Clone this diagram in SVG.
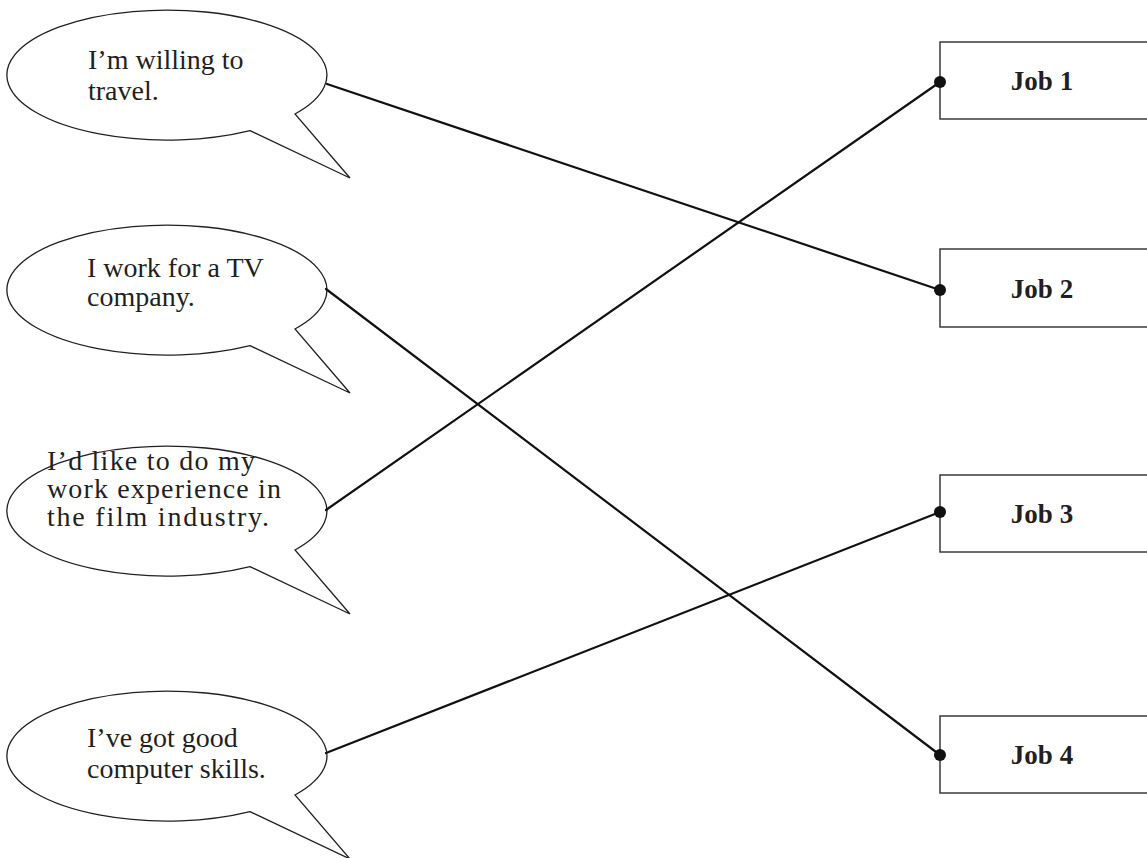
<svg xmlns="http://www.w3.org/2000/svg" width="1147" height="858" viewBox="0 0 1147 858">
  <defs>
    <style>
      .bubble { fill: #ffffff; stroke: #231f20; stroke-width: 1.3; stroke-linejoin: miter; }
      .btext { font-family: "Liberation Serif", "Times New Roman", serif; font-size: 28px; fill: #231f20; }
      .box { fill: #ffffff; stroke: #3a3a3a; stroke-width: 1.5; }
      .jtext { font-family: "Liberation Serif", "Times New Roman", serif; font-size: 27px; font-weight: bold; fill: #231f20; text-anchor: middle; }
      .conn { stroke: #111111; stroke-width: 2.2; fill: none; stroke-linecap: round; }
      .dot { fill: #111111; }
    </style>
    <path id="bubbleShape" d="M250,130.6 L350,178 L295,114 A160,65 0 1,0 250,130.6 Z"/>
  </defs>
  <rect width="1147" height="858" fill="#ffffff"/>

  <g id="bubble1">
    <use href="#bubbleShape" class="bubble"/>
    <text class="btext"><tspan x="88" y="69">I’m willing to</tspan><tspan x="88" y="100">travel.</tspan></text>
  </g>

  <g id="bubble2" transform="translate(0,215)">
    <use href="#bubbleShape" class="bubble"/>
    <text class="btext"><tspan x="87" y="62">I work for a TV</tspan><tspan x="87" y="91">company.</tspan></text>
  </g>

  <g id="bubble3" transform="translate(0,436)">
    <use href="#bubbleShape" class="bubble"/>
    <text class="btext"><tspan x="47" y="34" textLength="208">I’d like to do my</tspan><tspan x="47" y="62" textLength="234">work experience in</tspan><tspan x="47" y="90" textLength="222">the film industry.</tspan></text>
  </g>

  <g id="bubble4" transform="translate(0,681)">
    <use href="#bubbleShape" class="bubble"/>
    <text class="btext"><tspan x="87" y="66">I’ve got good</tspan><tspan x="87" y="97">computer skills.</tspan></text>
  </g>

  <g id="job1">
    <rect class="box" x="940" y="42" width="220" height="77"/>
    <text class="jtext" x="1042" y="90">Job 1</text>
  </g>
  <g id="job2">
    <rect class="box" x="940" y="249" width="220" height="78"/>
    <text class="jtext" x="1042" y="298">Job 2</text>
  </g>
  <g id="job3">
    <rect class="box" x="940" y="475" width="220" height="77"/>
    <text class="jtext" x="1042" y="523">Job 3</text>
  </g>
  <g id="job4">
    <rect class="box" x="940" y="716" width="220" height="77"/>
    <text class="jtext" x="1042" y="764">Job 4</text>
  </g>

  <g id="connectors">
    <line class="conn" x1="327" y1="84" x2="940" y2="290"/>
    <line class="conn" x1="326" y1="289" x2="940" y2="755"/>
    <line class="conn" x1="326" y1="510" x2="940" y2="82"/>
    <line class="conn" x1="326" y1="753" x2="940" y2="512"/>
    <circle class="dot" cx="940" cy="82" r="6"/>
    <circle class="dot" cx="940" cy="290" r="6"/>
    <circle class="dot" cx="940" cy="512" r="6"/>
    <circle class="dot" cx="940" cy="755" r="6"/>
  </g>
</svg>
